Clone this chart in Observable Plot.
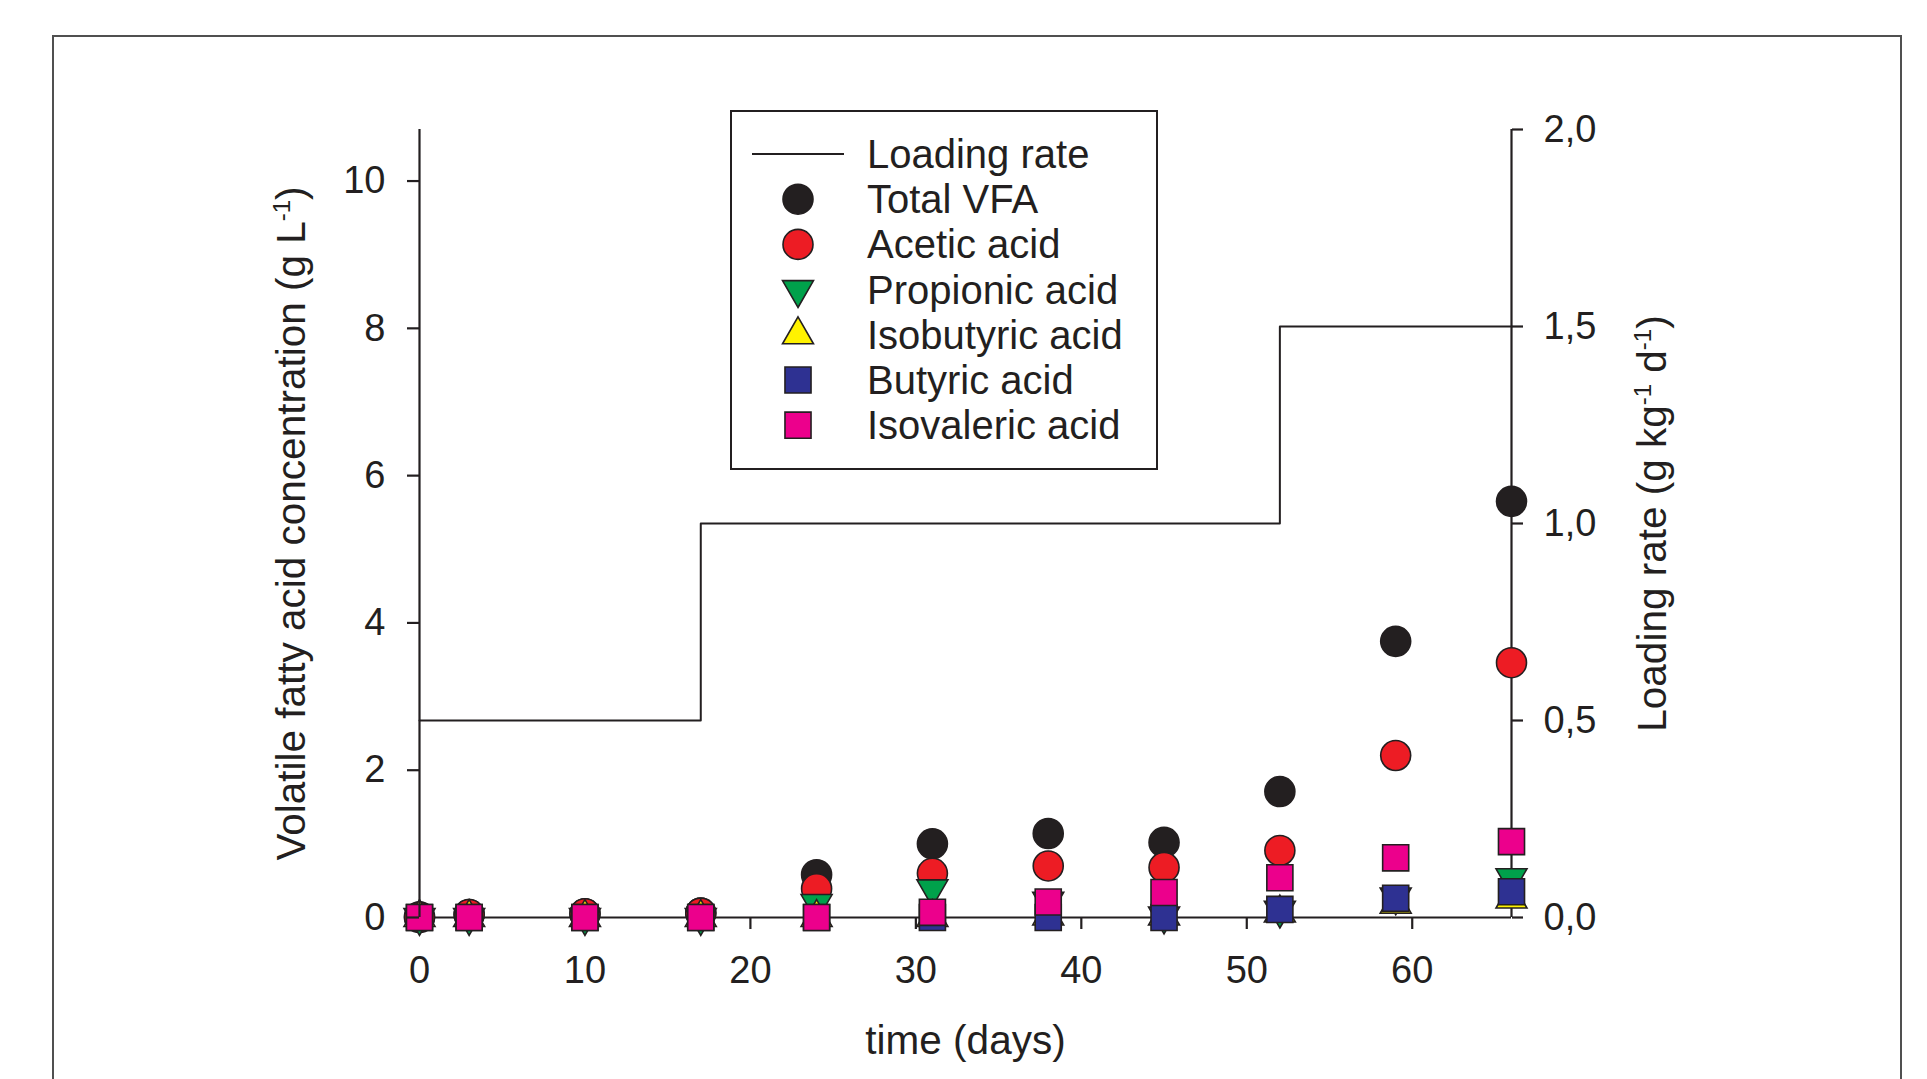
<!DOCTYPE html>
<html>
<head>
<meta charset="utf-8">
<script src="https://cdn.jsdelivr.net/npm/d3@7"></script>
<script src="https://cdn.jsdelivr.net/npm/@observablehq/plot@0.6"></script>
<style>
  html, body { margin: 0; padding: 0; background: #fff; }
  #wrap { position: relative; width: 1927px; height: 1079px; overflow: hidden; background: #fff; }
  #frame { position: absolute; left: 52px; top: 35px; width: 1846px; height: 1200px; border: 2px solid #505050; pointer-events: none; }
  #legend { position: absolute; left: 730px; top: 110px; width: 428px; height: 360px; }
  text { font-family: "Liberation Sans", Arial, Helvetica, sans-serif; }
</style>
</head>
<body>
<div id="wrap">
  <div id="chart"></div>
  <div id="frame"></div>
  <div id="legend"></div>
</div>
<script>
// ---------------- data ----------------
const days        = [0, 3, 10, 17, 24, 31, 38, 45, 52, 59, 66];
const totalVFA    = [0.01, 0.04, 0.05, 0.06, 0.58, 1.00, 1.14, 1.02, 1.71, 3.75, 5.65];
const acetic      = [0.00, 0.04, 0.05, 0.06, 0.39, 0.60, 0.70, 0.68, 0.91, 2.20, 3.46];
const propionic   = [0.00, 0.00, 0.00, 0.00, 0.19, 0.39, 0.22, 0.02, 0.10, 0.28, 0.54];
const isobutyric  = [0.00, 0.00, 0.00, 0.00, 0.00, 0.00, 0.02, 0.02, 0.06, 0.18, 0.25];
const butyric     = [0.00, 0.00, 0.00, 0.00, 0.00, 0.00, 0.00, 0.00, 0.11, 0.26, 0.35];
const isovaleric  = [0.00, 0.00, 0.00, 0.00, 0.00, 0.07, 0.21, 0.34, 0.54, 0.81, 1.03];

const loadDays  = [0, 17, 52, 66];
const loadRates = [0.5, 1.0, 1.5, 1.5];

const seriesNames = ["Total VFA", "Acetic acid", "Propionic acid", "Isobutyric acid", "Butyric acid", "Isovaleric acid"];
const seriesValues = [totalVFA, acetic, propionic, isobutyric, butyric, isovaleric];
const loadLabel = "Loading rate";

const xTicks = [0, 10, 20, 30, 40, 50, 60];
const yTicks = [0, 2, 4, 6, 8, 10];
const loadTicks = [0, 0.5, 1.0, 1.5, 2.0];

const xTitle = "time (days)";
const yTitle = "Volatile fatty acid concentration (g L⁻¹)";
const y2Title = "Loading rate (g kg⁻¹ d⁻¹)";

// ---------------- scales / styles ----------------
const xMax = 66;
const yTop = 10.7;
const rightTop = 2.0;
const ratio = yTop / rightTop;

const ink = "#231f20";
const triangleDown = {
  draw(context, size) {
    const y = -Math.sqrt(size / (Math.sqrt(3) * 3));
    context.moveTo(0, -2 * y);
    context.lineTo(-Math.sqrt(3) * y, y);
    context.lineTo(Math.sqrt(3) * y, y);
    context.closePath();
  }
};
const seriesStyle = [
  {fill: "#231f20", symbol: "circle",   d3sym: d3.symbolCircle,   r: 15},
  {fill: "#ed1c24", symbol: "circle",   d3sym: d3.symbolCircle,   r: 15},
  {fill: "#00a14b", symbol: triangleDown, d3sym: triangleDown,    r: 11.5},
  {fill: "#fff200", symbol: "triangle", d3sym: d3.symbolTriangle, r: 11.5},
  {fill: "#2e3192", symbol: "square",   d3sym: d3.symbolSquare,   r: 14.7},
  {fill: "#ec008c", symbol: "square",   d3sym: d3.symbolSquare,   r: 14.7}
];

const loadTable = loadDays.map((d, i) => ({day: d, rate: loadRates[i]}));
const seriesTables = seriesValues.map((vals, k) => days.map((d, i) => ({day: d, value: vals[i], series: seriesNames[k]})));

const fontFam = "'Liberation Sans', Arial, Helvetica, sans-serif";

const chart = Plot.plot({
  width: 1927,
  height: 1079,
  marginLeft: 419,
  marginRight: 416,
  marginTop: 129,
  marginBottom: 162,
  x: {domain: [0, xMax]},
  y: {domain: [0, yTop]},
  style: {fontFamily: fontFam, fontSize: "38px", color: ink, background: "transparent", overflow: "visible"},
  marks: [
    // bottom and right axis lines (behind the symbols)
    Plot.ruleY([0], {x1: 0, x2: xMax, stroke: ink, strokeWidth: 2.2}),
    Plot.ruleX([xMax], {y1: 0, y2: yTop, stroke: ink, strokeWidth: 2.2}),
    Plot.axisX({ticks: xTicks, tickSize: 12, tickPadding: 27, label: null, fontSize: 38, stroke: ink, strokeWidth: 2.2, fill: ink}),
    Plot.axisY({anchor: "right", ticks: loadTicks.map(v => v * ratio), tickFormat: v => (v / ratio).toFixed(1).replace(".", ","),
      tickSize: 11, tickPadding: 21, label: null, fontSize: 38, stroke: ink, strokeWidth: 2.2, fill: ink}),
    // loading rate step line
    Plot.line(loadTable, {x: "day", y: d => d.rate * ratio, curve: "step-after", stroke: ink, strokeWidth: 2}),
    // series symbols, drawn in legend order
    ...seriesTables.map((tbl, k) => Plot.dot(tbl, {
      x: "day", y: "value", symbol: seriesStyle[k].symbol, r: seriesStyle[k].r,
      fill: seriesStyle[k].fill, stroke: ink, strokeWidth: 1.6
    })),
    // left axis on top of symbols
    Plot.ruleX([0], {y1: 0, y2: yTop, stroke: ink, strokeWidth: 2.2}),
    Plot.axisY({anchor: "left", ticks: yTicks, tickSize: 12, tickPadding: 22, label: null, fontSize: 38, stroke: ink, strokeWidth: 2.2, fill: ink}),
    // axis titles
    Plot.text([xTitle], {text: d => d, frameAnchor: "bottom", dy: 124, lineAnchor: "middle", textAnchor: "middle", fontSize: 40.5, fill: ink}),
    Plot.text([yTitle], {text: d => d, frameAnchor: "left", dx: -127, rotate: -90, lineAnchor: "middle", textAnchor: "middle", fontSize: 40.5, fill: ink}),
    Plot.text([y2Title], {text: d => d, frameAnchor: "right", dx: 142, rotate: -90, lineAnchor: "middle", textAnchor: "middle", fontSize: 40.5, fill: ink})
  ]
});
document.getElementById("chart").appendChild(chart);

// superscripts in titles
d3.select(chart).selectAll("text").each(function() {
  const t = this.textContent;
  if (!t.includes("⁻¹")) return;
  const parts = t.split("⁻¹");
  const sel = d3.select(this);
  sel.text(null);
  parts.forEach((p, i) => {
    const ts = sel.append("tspan").text(p.length ? p : "\u200b");
    if (i > 0) ts.attr("dy", 15);
    if (i < parts.length - 1) sel.append("tspan").attr("dy", -15).attr("font-size", 24).text("-1");
  });
});

// ---------------- legend ----------------
const lg = d3.select("#legend").append("svg").attr("width", 428).attr("height", 360)
  .style("font-family", fontFam).style("font-size", "40px");
lg.append("rect").attr("x", 1).attr("y", 1).attr("width", 426).attr("height", 358)
  .attr("fill", "#fff").attr("stroke", ink).attr("stroke-width", 2);
const rowH = 45.2, row0 = 44, symX = 68, textX = 137;
lg.append("line").attr("x1", 22).attr("x2", 114).attr("y1", row0).attr("y2", row0).attr("stroke", ink).attr("stroke-width", 2);
lg.append("text").attr("x", textX).attr("y", row0).attr("dy", "0.35em").attr("fill", ink).text(loadLabel);
seriesNames.forEach((name, k) => {
  const y = row0 + (k + 1) * rowH;
  const st = seriesStyle[k];
  lg.append("path").attr("transform", `translate(${symX},${y})`)
    .attr("d", d3.symbol(st.d3sym, st.r * st.r * Math.PI)())
    .attr("fill", st.fill).attr("stroke", ink).attr("stroke-width", 1.6);
  lg.append("text").attr("x", textX).attr("y", y).attr("dy", "0.35em").attr("fill", ink).text(name);
});
</script>
</body>
</html>
